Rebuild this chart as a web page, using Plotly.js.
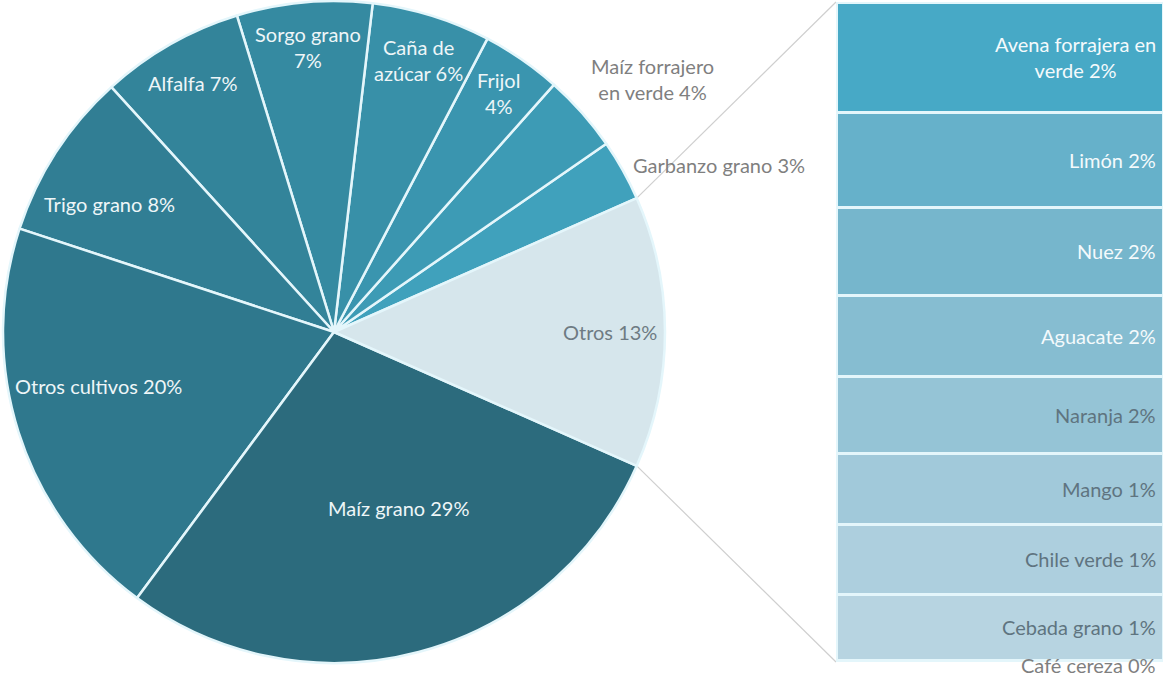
<!DOCTYPE html>
<html><head><meta charset="utf-8">
<script src="https://cdn.plot.ly/plotly-3.0.1.min.js"></script>
<style>html,body{margin:0;padding:0;background:#fff}#chart{width:1167px;height:677px}</style>
</head><body><div id="chart"></div>
<script>
// ---- DATA ----
// Pie slices, in counter-clockwise order starting just above 3 o'clock
const pieLabels = ["Garbanzo grano", "Maíz forrajero en verde", "Frijol", "Caña de azúcar", "Sorgo grano", "Alfalfa", "Trigo grano", "Otros cultivos", "Maíz grano"];
const pieValues = [3.0, 3.8, 3.9, 5.8, 6.6, 7.0, 8.2, 19.9, 28.5];
const pieText = ["Garbanzo grano 3%", "Maíz forrajero<br>en verde 4%", "Frijol<br>4%", "Caña de<br>azúcar 6%", "Sorgo grano<br>7%", "Alfalfa 7%", "Trigo grano 8%", "Otros cultivos 20%", "Maíz grano 29%"];
const otrosLabel = "Otros";
const otrosText = "Otros 13%";
// Breakdown of "Otros" (bar), top to bottom
const barLabels = ["Avena forrajera en verde", "Limón", "Nuez", "Aguacate", "Naranja", "Mango", "Chile verde", "Cebada grano", "Café cereza"];
const barValues = [2.22, 1.90, 1.76, 1.64, 1.54, 1.42, 1.40, 1.32, 0.04];
const barText = ["Avena forrajera en<br>verde 2%", "Limón 2%", "Nuez 2%", "Aguacate 2%", "Naranja 2%", "Mango 1%", "Chile verde 1%", "Cebada grano 1%", "Café cereza 0%"];

// ---- STYLE ----
const pieColors = ["#40A1BC","#3D9BB5","#3A95AF","#3890A8","#358AA1","#33849A","#317E94","#2F788D","#2C6B7D","#D6E6EC"];
const pieTextColors = ["#7F7F7F","#7F7F7F","#EEF6F8","#EEF6F8","#EEF6F8","#EEF6F8","#EEF6F8","#EEF6F8","#EEF6F8","#6E7B83"];
const pieLabelR = [1.03, 1.03, 0.877, 0.86, 0.865, 0.864, 0.78, 0.73, 0.565, 0.834];
const pieLabelDA = [0, 0, 0, 0, 0, 0, 3.2, -4.8, 5.3, 0];
const pieLabelAnchor = [["left","middle"],["left","bottom"]];
const barColors = ["#47A9C6","#66B1CA","#76B6CC","#86BDD1","#95C4D6","#A1C9DA","#ADCFDE","#B7D4E1","#C2DAE5"];
const barTextColors = ["#F4FAFC","#F4FAFC","#F4FAFC","#F4FAFC","#5F7480","#5F7480","#5F7480","#5F7480","#7F7F7F"];
const sepColor = "#E4F6FB";
const FONT = "Lato, 'Open Sans', sans-serif";
const FS = 20;

const W = 1167, H = 677;
const pieBox = {x0: 3, x1: 665, y0: 1, y1: 663};   // px
const barBox = {x0: 836, x1: 1163, y0: 2, y1: 662}; // px

// ---- BUILD ----
const otrosValue = barValues.reduce((a, b) => a + b, 0);
const allLabels = pieLabels.concat([otrosLabel]);
const allValues = pieValues.concat([otrosValue]);
const allText = pieText.concat([otrosText]);
const total = allValues.reduce((a, b) => a + b, 0);
const k = 360 / total;
const A0 = otrosValue * k / 2;             // math angle of Otros' upper edge
const rotation = 90 - A0 - pieValues[0] * k; // plotly rotation (clockwise from 12 o'clock)

const cx = (pieBox.x0 + pieBox.x1) / 2, cy = (pieBox.y0 + pieBox.y1) / 2;
const r = (pieBox.x1 - pieBox.x0) / 2;
const toPaper = (px, py) => [px / W, 1 - py / H];

const annotations = [];
let cum = 0;
allValues.forEach((v, i) => {
  const mid = (A0 + (cum + v / 2) * k + pieLabelDA[i]) * Math.PI / 180;
  cum += v;
  const R = pieLabelR[i] * r;
  const [x, y] = toPaper(cx + R * Math.cos(mid), cy - R * Math.sin(mid));
  const anc = pieLabelAnchor[i] || ["center", "middle"];
  annotations.push({
    xref: "paper", yref: "paper", x: x, y: y, text: allText[i], showarrow: false,
    xanchor: anc[0], yanchor: anc[1], align: "center",
    font: {family: FONT, size: FS, color: pieTextColors[i]}
  });
});

// bar traces (stacked bottom-up)
const traces = [{
  type: "pie", labels: allLabels, values: allValues, sort: false,
  direction: "counterclockwise", rotation: rotation,
  marker: {colors: pieColors, line: {color: sepColor, width: 2.5}},
  textinfo: "none", hoverinfo: "label+percent",
  domain: {x: [pieBox.x0 / W, pieBox.x1 / W], y: [1 - pieBox.y1 / H, 1 - pieBox.y0 / H]}
}];
let base = 0;
for (let i = barValues.length - 1; i >= 0; i--) {
  traces.push({
    type: "bar", x: [0], y: [barValues[i]], name: barLabels[i], width: 1,
    xaxis: "x2", yaxis: "y2",
    marker: {color: barColors[i], line: {color: sepColor, width: 3}},
    hoverinfo: "name+y"
  });
  annotations.push({
    xref: "x2", yref: "y2", x: 0.5, y: base + barValues[i] / 2, xshift: -5,
    yshift: i === barValues.length - 1 ? -4 : 0,
    text: barText[i], showarrow: false, xanchor: "right", yanchor: "middle", align: "center",
    font: {family: FONT, size: FS, color: barTextColors[i]}
  });
  base += barValues[i];
}

// connector lines from Otros slice edges to the bar corners
const a = A0 * Math.PI / 180;
const pTop = toPaper(cx + r * Math.cos(a), cy - r * Math.sin(a));
const pBot = toPaper(cx + r * Math.cos(-a), cy - r * Math.sin(-a));
const bTop = toPaper(barBox.x0, barBox.y0);
const bBot = toPaper(barBox.x0, barBox.y1);
const shapes = [
  {type: "line", xref: "paper", yref: "paper", x0: pTop[0], y0: pTop[1], x1: bTop[0], y1: bTop[1], line: {color: "#CFCFCF", width: 1.2}, layer: "below"},
  {type: "line", xref: "paper", yref: "paper", x0: pBot[0], y0: pBot[1], x1: bBot[0], y1: bBot[1], line: {color: "#CFCFCF", width: 1.2}, layer: "below"}
];

const layout = {
  width: W, height: H, margin: {l: 0, r: 0, t: 0, b: 0},
  paper_bgcolor: "#ffffff", plot_bgcolor: "rgba(0,0,0,0)",
  showlegend: false, barmode: "stack",
  xaxis2: {domain: [barBox.x0 / W, barBox.x1 / W], range: [-0.5, 0.5], visible: false, fixedrange: true, anchor: "y2"},
  yaxis2: {domain: [1 - barBox.y1 / H, 1 - barBox.y0 / H], range: [0, otrosValue], visible: false, fixedrange: true, anchor: "x2"},
  xaxis: {visible: false}, yaxis: {visible: false},
  annotations: annotations, shapes: shapes,
  font: {family: FONT}
};
Plotly.newPlot("chart", traces, layout, {displayModeBar: false, staticPlot: true});
</script>
</body></html>
